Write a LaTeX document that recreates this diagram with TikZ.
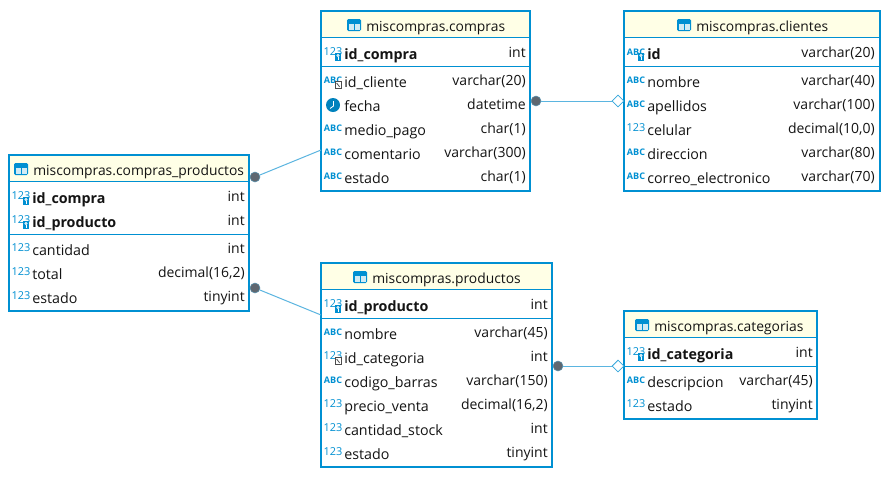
\documentclass[tikz,border=0pt]{standalone}
\usepackage{fontspec}
\setmainfont{Open Sans}
\usetikzlibrary{shapes.geometric}
\definecolor{azul}{HTML}{0090D2}
\definecolor{lineaazul}{HTML}{5BB5E0}
\definecolor{crema}{HTML}{FFFFE6}
\definecolor{punto}{HTML}{5F6770}
\definecolor{texto}{HTML}{141414}
% iconos de las columnas
\newcommand{\icoNum}[2]{\node[iconum] at (#1,#2-2) {123};}
\newcommand{\icoAbc}[2]{\node[icoabc] at (#1,#2-2) {ABC};}
\newcommand{\llave}[2]{\fill[azul] (#1+2,#2-1) rectangle (#1+8,#2+7);
    \draw[white, line width=.5pt] (#1+5,#2+1.5) circle (1.2);
    \draw[white, line width=.5pt] (#1+5,#2+2.7) -- (#1+5,#2+5.5);}
\newcommand{\foranea}[2]{\draw[fill=white, draw=black!70, line width=.6pt] (#1+2,#2-.5) rectangle (#1+8,#2+6.5);
    \draw[black!70, line width=.6pt] (#1+3.6,#2+1) -- (#1+6.6,#2+4.8);}
\newcommand{\icoNumLlave}[2]{\icoNum{#1}{#2}\llave{#1}{#2}}
\newcommand{\icoAbcLlave}[2]{\icoAbc{#1}{#2}\llave{#1}{#2}}
\newcommand{\icoNumFk}[2]{\icoNum{#1}{#2}\foranea{#1}{#2}}
\newcommand{\icoAbcFk}[2]{\icoAbc{#1}{#2}\foranea{#1}{#2}}
\newcommand{\icoReloj}[2]{\fill[azul!90!black] (#1,#2-1) circle (7);
    \draw[white, line width=.6pt] (#1+.5,#2-5) -- (#1+.5,#2) -- (#1-3,#2+2.5);}
\newcommand{\icoTabla}[2]{\fill[azul, rounded corners=1pt] (#1-7,#2-6) rectangle (#1+7,#2+6);
    \fill[crema!40!azul!30] (#1-5.5,#2-1) rectangle (#1-.5,#2+4.5);
    \fill[crema!40!azul!30] (#1+.5,#2-1) rectangle (#1+5.5,#2+4.5);}
\begin{document}
\begin{tikzpicture}[x=.75pt, y=-.75pt,
        tabla/.style={draw=azul, line width=1.9pt, fill=white, inner sep=0pt, outer sep=0pt},
        encabezado/.style={fill=crema, inner sep=0pt, outer sep=0pt},
        titulo/.style={anchor=base west, inner sep=0pt, text=texto, font=\fontsize{10.4pt}{12pt}\selectfont},
        campo/.style={anchor=base west, inner sep=0pt, text=texto, font=\fontsize{10.7pt}{12pt}\selectfont},
        tipodato/.style={anchor=base east, inner sep=0pt, text=texto, font=\fontsize{10.5pt}{12pt}\selectfont},
        iconum/.style={inner sep=0pt, text=azul, font=\fontsize{8.2pt}{9pt}\selectfont},
        icoabc/.style={inner sep=0pt, text=azul, font=\fontsize{6.8pt}{7pt}\selectfont\bfseries},
        separador/.style={draw=azul, line width=.75pt},
        relacion/.style={draw=lineaazul, line width=.75pt},
        origen/.style={circle, fill=punto, draw=lineaazul!60!punto, line width=.4pt, minimum size=7.5pt, inner sep=0pt},
        destino/.style={diamond, aspect=1, draw=azul!80, fill=white, line width=.6pt, minimum size=9pt, inner sep=0pt}
    ]
    \useasboundingbox[fill=white] (0,0) rectangle (888,476);
    % cajas
    \node[tabla, minimum width=180pt, minimum height=117pt] (detalle) at (129,233) {};
    \node[tabla, minimum width=156.75pt, minimum height=135pt] (compras) at (425.5,101) {};
    \node[tabla, minimum width=192pt, minimum height=135pt] (clientes) at (752,101) {};
    \node[tabla, minimum width=173.25pt, minimum height=153pt] (productos) at (436.5,365) {};
    \node[tabla, minimum width=144.75pt, minimum height=81pt] (categorias) at (720.5,365) {};
    % encabezados
    \node[encabezado, minimum width=178.1pt, minimum height=19.3pt] (encDetalle) at (129,169) {};
    \node[encabezado, minimum width=154.85pt, minimum height=19.3pt] (encCompras) at (425.5,25) {};
    \node[encabezado, minimum width=190.1pt, minimum height=19.3pt] (encClientes) at (752,25) {};
    \node[encabezado, minimum width=171.35pt, minimum height=19.3pt] (encProductos) at (436.5,277) {};
    \node[encabezado, minimum width=142.85pt, minimum height=19.3pt] (encCategorias) at (720.5,325) {};
    \node[titulo] (tituloDetalle) at (33,175) {miscompras.compras\_productos};
    \node[titulo] (tituloCompras) at (366,31) {miscompras.compras};
    \node[titulo] (tituloClientes) at (696,31) {miscompras.clientes};
    \node[titulo] (tituloProductos) at (372,283) {miscompras.productos};
    \node[titulo] (tituloCategorias) at (654,331) {miscompras.categorias};
    \icoTabla{21}{169} \icoTabla{354}{25} \icoTabla{684}{25} \icoTabla{360}{277} \icoTabla{642}{325}
    % separadores
    \draw[separador] (encDetalle.south west) -- (encDetalle.south east);
    \draw[separador] (encCompras.south west) -- (encCompras.south east);
    \draw[separador] (encClientes.south west) -- (encClientes.south east);
    \draw[separador] (encProductos.south west) -- (encProductos.south east);
    \draw[separador] (encCategorias.south west) -- (encCategorias.south east);
    \draw[separador] (detalle.west |- 0,234) -- (detalle.east |- 0,234);
    \draw[separador] (compras.west |- 0,66) -- (compras.east |- 0,66);
    \draw[separador] (clientes.west |- 0,66) -- (clientes.east |- 0,66);
    \draw[separador] (productos.west |- 0,318) -- (productos.east |- 0,318);
    \draw[separador] (categorias.west |- 0,366) -- (categorias.east |- 0,366);
    % filas
    \foreach \fil/\ico/\nom/\tipo in {198/\icoNumLlave/\textbf{id\_compra}/int,
        222/\icoNumLlave/\textbf{id\_producto}/int, 250/\icoNum/cantidad/int,
        274/\icoNum/total/{decimal(16,2)}, 298/\icoNum/estado/tinyint}{
        \ico{21}{\fil}
        \node[campo] (detalle-\fil) at (32,\fil+5) {\nom};
        \node[tipodato] (detalleTipo-\fil) at (245,\fil+3) {\tipo};
    }
    \foreach \fil/\ico/\nom/\tipo in {54/\icoNumLlave/\textbf{id\_compra}/int,
        82/\icoAbcFk/id\_cliente/varchar(20), 106/\icoReloj/fecha/datetime,
        130/\icoAbc/medio\_pago/char(1), 154/\icoAbc/comentario/varchar(300),
        178/\icoAbc/estado/char(1)}{
        \ico{333}{\fil}
        \node[campo] (compras-\fil) at (344,\fil+5) {\nom};
        \node[tipodato] (comprasTipo-\fil) at (526,\fil+3) {\tipo};
    }
    \foreach \fil/\ico/\nom/\tipo in {54/\icoAbcLlave/\textbf{id}/varchar(20),
        82/\icoAbc/nombre/varchar(40), 106/\icoAbc/apellidos/varchar(100),
        130/\icoNum/celular/{decimal(10,0)}, 154/\icoAbc/direccion/varchar(80),
        178/\icoAbc/correo\_electronico/varchar(70)}{
        \ico{636}{\fil}
        \node[campo] (clientes-\fil) at (647,\fil+5) {\nom};
        \node[tipodato] (clientesTipo-\fil) at (875,\fil+3) {\tipo};
    }
    \foreach \fil/\ico/\nom/\tipo in {306/\icoNumLlave/\textbf{id\_producto}/int,
        334/\icoAbc/nombre/varchar(45), 358/\icoNumFk/id\_categoria/int,
        382/\icoAbc/codigo\_barras/varchar(150), 406/\icoNum/precio\_venta/{decimal(16,2)},
        430/\icoNum/cantidad\_stock/int, 454/\icoNum/estado/tinyint}{
        \ico{333}{\fil}
        \node[campo] (productos-\fil) at (344,\fil+5) {\nom};
        \node[tipodato] (productosTipo-\fil) at (548,\fil+3) {\tipo};
    }
    \foreach \fil/\ico/\nom/\tipo in {354/\icoNumLlave/\textbf{id\_categoria}/int,
        382/\icoAbc/descripcion/varchar(45), 406/\icoNum/estado/tinyint}{
        \ico{636}{\fil}
        \node[campo] (categorias-\fil) at (647,\fil+5) {\nom};
        \node[tipodato] (categoriasTipo-\fil) at (813,\fil+3) {\tipo};
    }
    % relaciones
    \node[origen] (origenCompras) at (255,177) {};
    \node[origen] (origenProductos) at (255,288) {};
    \node[origen] (origenClientes) at (536,101) {};
    \node[origen] (origenCategorias) at (558,366) {};
    \node[destino] (rombo1) at (618,101) {};
    \node[destino] (rombo2) at (618,366) {};
    \coordinate (finCompras) at (321,150);
    \coordinate (finProductos) at (321,315);
    \draw[relacion] (origenCompras) -- (finCompras);
    \draw[relacion] (origenProductos) -- (finProductos);
    \draw[relacion] (origenClientes) -- (rombo1);
    \draw[relacion] (origenCategorias) -- (rombo2);
\end{tikzpicture}
\end{document}
